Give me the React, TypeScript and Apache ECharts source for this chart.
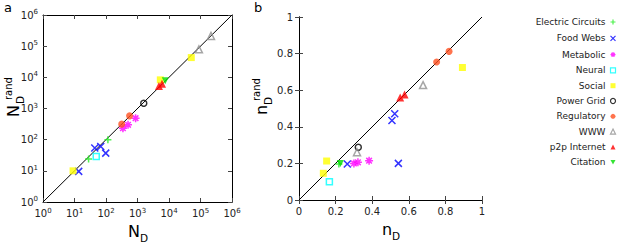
import React, { useEffect, useRef } from 'react';
import * as echarts from 'echarts';

const categories = ['Electric Circuits', 'Food Webs', 'Metabolic', 'Neural', 'Social', 'Power Grid', 'Regulatory', 'WWW', 'p2p Internet', 'Citation'];

// Panel a: [N_D, N_D^rand]
const aElectric = [[28, 24], [115, 100]];
const aFood = [[13.6, 9.6], [44, 54], [68, 60], [98, 37]];
const aMetabolic = [[345, 234], [500, 300], [870, 490]];
const aNeural = [[49, 29]];
const aSocial = [[9, 10], [5300, 8300], [51000, 43000]];
const aPower = [[1580, 1480]];
const aRegulatory = [[315, 315], [560, 580]];
const aWWW = [[89000, 79000], [215000, 213000]];
const aP2P = [[4800, 5300], [6000, 6200]];
const aCitation = [[7600, 7700]];

// Panel b: [n_D, n_D^rand]
const bElectric = [[0.218, 0.197]];
const bFood = [[0.264, 0.197], [0.508, 0.434], [0.523, 0.471], [0.543, 0.2]];
const bMetabolic = [[0.3, 0.2], [0.322, 0.206], [0.383, 0.215]];
const bNeural = [[0.166, 0.1]];
const bSocial = [[0.133, 0.146], [0.151, 0.213], [0.893, 0.724]];
const bPower = [[0.324, 0.288]];
const bRegulatory = [[0.752, 0.754], [0.82, 0.812]];
const bWWW = [[0.317, 0.261], [0.678, 0.628]];
const bP2P = [[0.553, 0.56], [0.577, 0.577]];
const bCitation = [[0.226, 0.2]];

const aDiag = [[1, 1], [1e6, 1e6]];
const bDiag = [[0, 0], [1, 1]];

const PLUS = 'path://M0,5L10,5M5,0L5,10';
const CROSS = 'path://M0,0L10,10M0,10L10,0';
const STAR = 'path://M0,5L10,5M5,0L5,10M1.5,1.5L8.5,8.5M1.5,8.5L8.5,1.5';

const styles: any[] = [
  { symbol: PLUS, size: 7, itemStyle: { color: 'none', borderColor: '#22ee22', borderWidth: 1.5 } },
  { symbol: CROSS, size: 7, itemStyle: { color: 'none', borderColor: '#0000ff', borderWidth: 1.5 } },
  { symbol: STAR, size: 8, itemStyle: { color: 'none', borderColor: '#ff00ff', borderWidth: 1.5 } },
  { symbol: 'rect', size: 6, itemStyle: { color: 'rgba(255,255,255,0)', borderColor: '#00ffff', borderWidth: 1.5 } },
  { symbol: 'rect', size: 7, itemStyle: { color: '#ffff00' } },
  { symbol: 'circle', size: 6, itemStyle: { color: 'rgba(255,255,255,0)', borderColor: '#000000', borderWidth: 1.5 } },
  { symbol: 'circle', size: 7, itemStyle: { color: '#ff5020' } },
  { symbol: 'triangle', size: 7, itemStyle: { color: 'rgba(255,255,255,0)', borderColor: '#909090', borderWidth: 1.5 } },
  { symbol: 'triangle', size: 8, itemStyle: { color: '#ff0000' } },
  { symbol: 'path://M0,0L10,0L5,9Z', size: 7, itemStyle: { color: '#00dd00' } },
];

const aData = [aElectric, aFood, aMetabolic, aNeural, aSocial, aPower, aRegulatory, aWWW, aP2P, aCitation];
const bData = [bElectric, bFood, bMetabolic, bNeural, bSocial, bPower, bRegulatory, bWWW, bP2P, bCitation];

const FONT = 'DejaVu Sans';
const tickColor = '#444';

function logLabel(v: number) {
  const e = Math.round(Math.log10(v));
  return '10{sup|' + e + '}';
}

const labelRich = { sup: { fontSize: 7, fontFamily: FONT, color: '#222', verticalAlign: 'top', padding: [0, 0, 6, 0] } };

export default function App() {
  const ref = useRef<HTMLDivElement>(null);
  useEffect(() => {
    const chart = echarts.init(ref.current!, null, { renderer: 'svg' });
    const axisLine = { show: true, lineStyle: { color: '#000', width: 1 } };
    const tick = { show: true, inside: true, length: 4, lineStyle: { color: tickColor } };
    const series: any[] = [];
    series.push({ type: 'line', xAxisIndex: 0, yAxisIndex: 0, data: aDiag, symbol: 'none', lineStyle: { color: '#000', width: 1 }, silent: true, z: 1 });
    series.push({ type: 'line', xAxisIndex: 2, yAxisIndex: 2, data: bDiag, symbol: 'none', lineStyle: { color: '#000', width: 1 }, silent: true, z: 1 });
    categories.forEach((name, i) => {
      const s = styles[i];
      series.push({ type: 'scatter', name, xAxisIndex: 0, yAxisIndex: 0, data: aData[i], symbol: s.symbol, symbolSize: s.size, itemStyle: s.itemStyle, z: 3 });
      series.push({ type: 'scatter', name, xAxisIndex: 2, yAxisIndex: 2, data: bData[i], symbol: s.symbol, symbolSize: s.size, itemStyle: s.itemStyle, z: 3 });
    });
    const logAxis = (pos: string, grid: number, show: boolean) => ({
      type: 'log', logBase: 10, min: 1, max: 1e6, gridIndex: grid, position: pos, splitNumber: 6,
      axisLine, axisTick: tick, splitLine: { show: false }, minorTick: { show: false },
      axisLabel: show ? { show: true, formatter: logLabel, fontSize: 10, fontFamily: FONT, color: '#222', margin: 5, rich: labelRich } : { show: false },
    });
    const linAxis = (pos: string, grid: number, show: boolean) => ({
      type: 'value', min: 0, max: 1, interval: 0.2, gridIndex: grid, position: pos,
      axisLine, axisTick: tick, splitLine: { show: false },
      axisLabel: show ? { show: true, fontSize: 10, fontFamily: FONT, color: '#222', margin: 6, formatter: (v: number) => String(Math.round(v * 10) / 10) } : { show: false },
    });
    const subText = (x: number, y: number, t: string, size: number) => ({
      type: 'text', x, y, style: { text: t, fontSize: size, fontFamily: FONT, fill: '#000', verticalAlign: 'bottom' },
    });
    chart.setOption({
      animation: false,
      grid: [
        { left: 43, top: 15, width: 189, height: 187 },
        { left: 299, top: 17, width: 183, height: 183 },
      ],
      xAxis: [logAxis('bottom', 0, true), logAxis('top', 0, false), linAxis('bottom', 1, true), linAxis('top', 1, false)],
      yAxis: [logAxis('left', 0, true), logAxis('right', 0, false), linAxis('left', 1, true), linAxis('right', 1, false)],
      legend: {
        orient: 'vertical', right: 2, top: 12, align: 'right', itemWidth: 5, itemHeight: 5, itemGap: 6.3,
        data: categories, textStyle: { fontSize: 9, fontFamily: FONT, color: '#222' }, selectedMode: false,
        itemStyle: { borderWidth: 1.2 },
      },
      series,
      graphic: [
        { type: 'text', x: 4, y: 1, style: { text: 'a', fontSize: 13, fontFamily: FONT, fill: '#000' } },
        { type: 'text', x: 254, y: 1, style: { text: 'b', fontSize: 13, fontFamily: FONT, fill: '#000' } },
        subText(128, 239, 'N', 16),
        subText(140, 243, 'D', 10.5),
        subText(382, 237, 'n', 16),
        subText(392, 241, 'D', 10.5),
        { type: 'group', x: 21, y: 117, rotation: Math.PI / 2, children: [
          subText(0, 0, 'N', 16), subText(13, 4, 'D', 10.5), subText(17, -8, 'rand', 10),
        ] },
        { type: 'group', x: 269, y: 115, rotation: Math.PI / 2, children: [
          subText(0, 0, 'n', 16), subText(10, 4, 'D', 10.5), subText(14, -8, 'rand', 10),
        ] },
      ],
    });
    return () => chart.dispose();
  }, []);
  return <div ref={ref} style={{ width: 625, height: 250, position: 'absolute', left: 0, top: 0 }} />;
}
